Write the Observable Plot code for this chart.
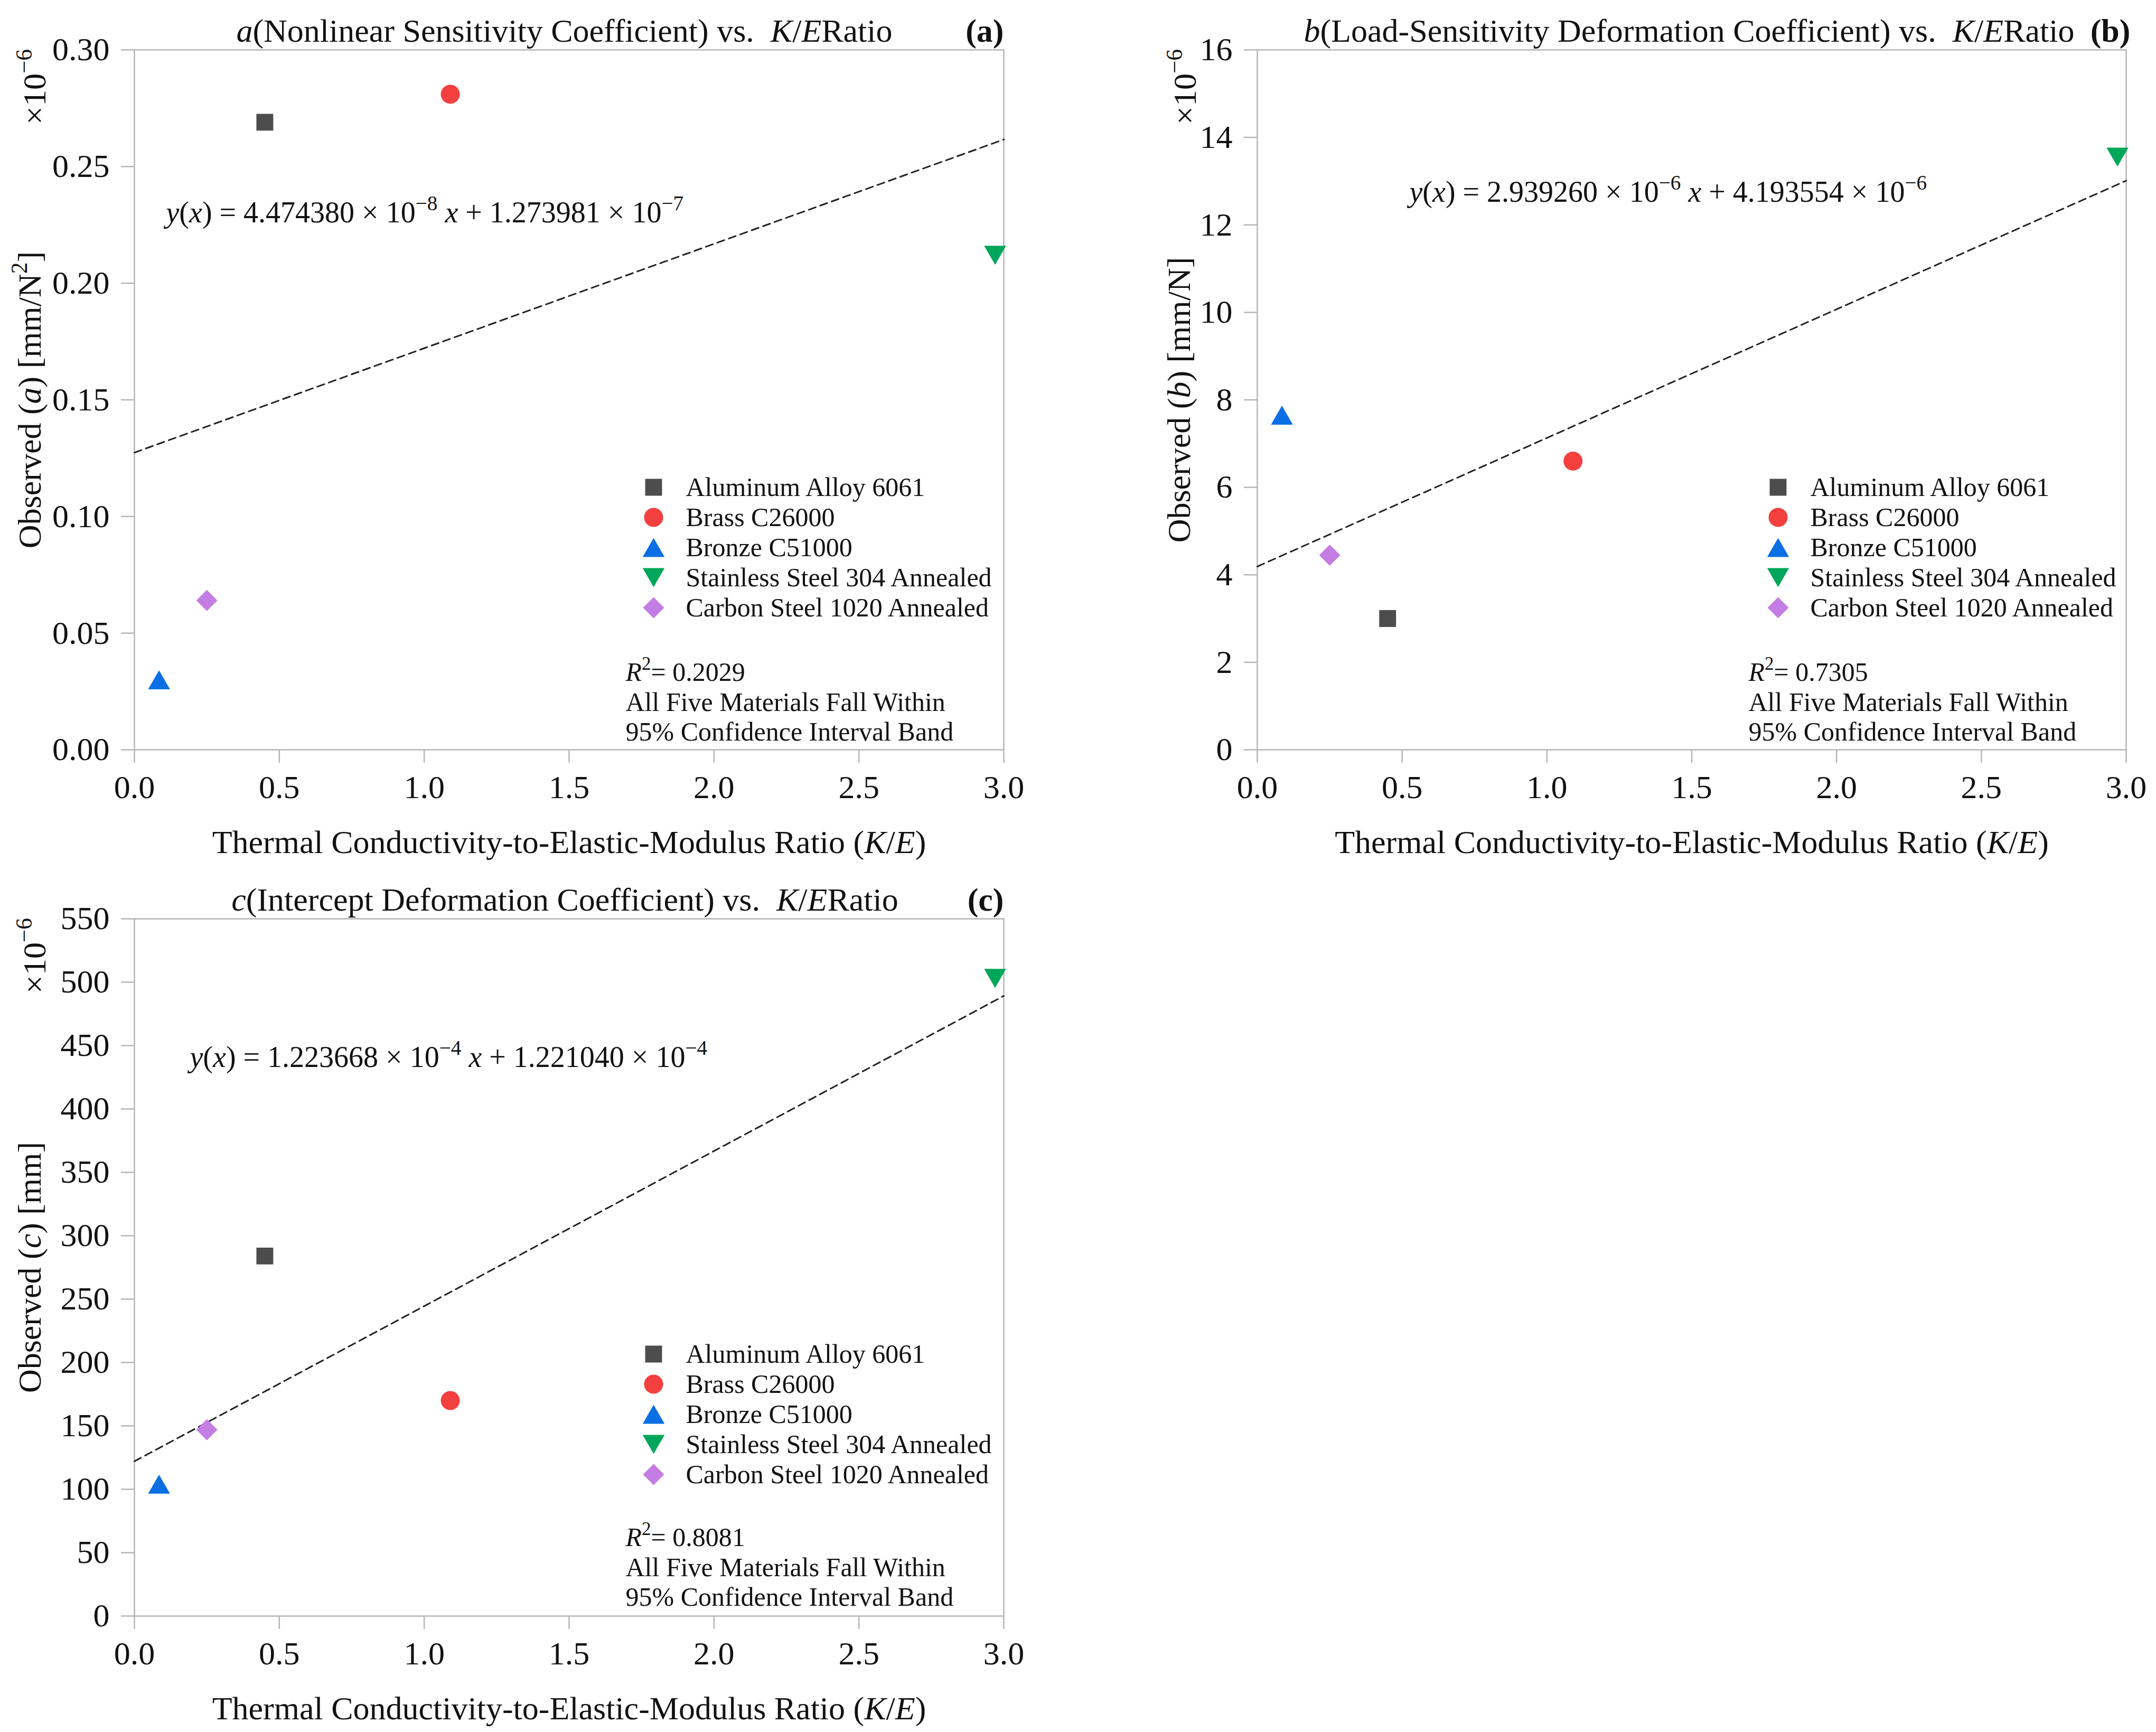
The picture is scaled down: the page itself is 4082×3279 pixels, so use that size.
<!DOCTYPE html>
<html>
<head>
<meta charset="utf-8">
<script src="https://cdn.jsdelivr.net/npm/d3@7"></script>
<script src="https://cdn.jsdelivr.net/npm/@observablehq/plot@0.6"></script>
<style>
  html, body { margin: 0; padding: 0; background: #fff; }
  #page { position: relative; width: 4082px; height: 3279px; background: #fff; overflow: hidden; }
  #page > svg { position: absolute; }
  #page svg text { font-family: 'Liberation Serif', 'Times New Roman', serif; }
</style>
</head>
<body>
<div id="page"></div>
<script>
// --- data ---
const materials = ["Aluminum Alloy 6061", "Brass C26000", "Bronze C51000", "Stainless Steel 304 Annealed", "Carbon Steel 1020 Annealed"];
const keRatio = [0.45, 1.09, 0.085, 2.97, 0.25];
const obsA = [0.269, 0.281, 0.030, 0.212, 0.064];   // x10^-6 mm/N^2
const obsB = [3.0, 6.6, 7.65, 13.55, 4.45];         // x10^-6 mm/N
const obsC = [284, 170, 104, 503, 147];             // x10^-6 mm
// fitted line ends at K/E = 0 and 3
const fitX = [0, 3];
const fitA = [0.1274, 0.2616];
const fitB = [4.19, 13.01];
const fitC = [122.1, 489.2];
const xTicks = [0, 0.5, 1, 1.5, 2, 2.5, 3];
const aTicks = [0, 0.05, 0.10, 0.15, 0.20, 0.25, 0.30];
const bTicks = [0, 2, 4, 6, 8, 10, 12, 14, 16];
const cTicks = [0, 50, 100, 150, 200, 250, 300, 350, 400, 450, 500, 550];
const colors = ["#4d4d4d", "#f43f3f", "#0a6fe3", "#00a65a", "#c47de3"];

// triangles a bit smaller than d3's default
const triUp = {draw(ctx, size) {
  const s = Math.sqrt(size) * 1.3, h = s * Math.sqrt(3) / 2;
  ctx.moveTo(0, -h / 2); ctx.lineTo(s / 2, h / 2); ctx.lineTo(-s / 2, h / 2); ctx.closePath();
}};
const triDown = {draw(ctx, size) {
  const s = Math.sqrt(size) * 1.3, h = s * Math.sqrt(3) / 2;
  ctx.moveTo(0, h / 2); ctx.lineTo(s / 2, -h / 2); ctx.lineTo(-s / 2, -h / 2); ctx.closePath();
}};
const symbols = ["square", "circle", triUp, triDown, "diamond2"];

const font = "'Liberation Serif', 'Times New Roman', serif";
const xLabel = "Thermal Conductivity-to-Elastic-Modulus Ratio (*K*/*E*)";
const gray = "#b5b5b5";

// *..* -> italic, ^..^ -> superscript
function richText(svg) {
  d3.select(svg).selectAll("text, tspan")
    .filter(function() { return this.childElementCount === 0 && /[*^]/.test(this.textContent); })
    .each(function() {
      const el = d3.select(this), src = this.textContent;
      el.text(null);
      const segs = [];
      let it = false, sup = false, buf = "";
      for (const ch of src) {
        if (ch === "*" || ch === "^") {
          if (buf) segs.push({t: buf, it, sup});
          buf = "";
          if (ch === "*") it = !it; else sup = !sup;
        } else buf += ch;
      }
      if (buf) segs.push({t: buf, it, sup});
      let prevSup = false;
      for (const s of segs) {
        const t = el.append("tspan").text(s.t);
        if (s.it) t.attr("font-style", "italic");
        if (s.sup) { t.attr("font-size", "0.7em"); if (!prevSup) t.attr("dy", "-0.6em"); }
        else if (prevSup) t.attr("dy", "0.42em");
        prevSup = s.sup;
      }
    });
}

function panel(cfg) {
  const rows = materials.map((m, i) => ({material: m, ke: keRatio[i], value: cfg.values[i]}));
  const fit = fitX.map((x, i) => ({x, y: cfg.fit[i]}));
  const chart = Plot.plot({
    width: cfg.width,
    height: cfg.height,
    marginLeft: cfg.mL, marginRight: cfg.mR, marginTop: cfg.mT, marginBottom: cfg.mB,
    style: {fontFamily: font, fontSize: "62px", color: "#111", background: "transparent", whiteSpace: "pre", overflow: "visible"},
    x: {domain: [0, 3]},
    y: {domain: cfg.yDomain},
    color: {domain: materials, range: colors},
    symbol: {domain: materials, range: symbols},
    marks: [
      Plot.frame({stroke: gray, strokeWidth: 2.5}),
      Plot.axisX({ticks: xTicks, tickFormat: d3.format(".1f"), tickSize: 25, tickPadding: 22, stroke: gray, strokeWidth: 2.5, label: null, fontFamily: font}),
      Plot.axisY({ticks: cfg.yTicks, tickFormat: cfg.yFormat, tickSize: 25, tickPadding: 22, stroke: gray, strokeWidth: 2.5, label: null, fontFamily: font}),
      Plot.line(fit, {x: "x", y: "y", stroke: "#222", strokeWidth: 3, strokeDasharray: "14,9"}),
      Plot.dot(rows, {x: "ke", y: "value", symbol: "material", fill: "material", r: 18}),
      // title + panel tag
      Plot.text([cfg.title], {text: d => d, frameAnchor: "top", dx: cfg.titleDx, dy: -35, textAnchor: "middle", lineAnchor: "middle", fontSize: 62}),
      Plot.text([cfg.tag], {text: d => d, frameAnchor: "top-right", textAnchor: "end", dx: cfg.tagDx, dy: -35, lineAnchor: "middle", fontSize: 62, fontWeight: "bold"}),
      // axis labels
      Plot.text([xLabel], {text: d => d, frameAnchor: "bottom", dy: 176, textAnchor: "middle", lineAnchor: "middle", fontSize: 62}),
      Plot.text([cfg.ylab], {text: d => d, frameAnchor: "left", dx: cfg.ylabDx, rotate: -90, textAnchor: "middle", lineAnchor: "middle", fontSize: 62}),
      Plot.text(["×10^−6^"], {text: d => d, frameAnchor: "top-left", dx: cfg.expDx, dy: 70, rotate: -90, textAnchor: "middle", lineAnchor: "middle", fontSize: 62}),
      // annotations
      Plot.text([cfg.eq], {text: d => d, frameAnchor: "top-left", dx: cfg.eqDx, dy: cfg.eqDy, textAnchor: "start", lineAnchor: "middle", fontSize: 56}),
      Plot.text([cfg.r2], {text: d => d, frameAnchor: "bottom-left", dx: cfg.r2Dx, dy: cfg.r2Dy, textAnchor: "start", lineAnchor: "middle", lineHeight: 1.13, fontSize: 50})
    ]
  });
  richText(chart);
  chart.style.left = cfg.left + "px";
  chart.style.top = cfg.top + "px";
  return chart;
}

function legendBox(left, top) {
  const lg = Plot.plot({
    width: 760, height: 5 * 57,
    margin: 0,
    style: {fontFamily: font, color: "#111", background: "transparent", overflow: "visible"},
    y: {domain: materials, axis: null},
    color: {domain: materials, range: colors},
    symbol: {domain: materials, range: symbols},
    marks: [
      Plot.dot(materials, {y: d => d, symbol: d => d, fill: d => d, r: 18, frameAnchor: "left", dx: 20}),
      Plot.text(materials, {y: d => d, text: d => d, frameAnchor: "left", dx: 81, textAnchor: "start", fontSize: 50})
    ]
  });
  lg.style.left = left + "px";
  lg.style.top = top + "px";
  return lg;
}

const page = document.getElementById("page");

page.append(panel({
  values: obsA, fit: fitA, yDomain: [0, 0.3], yTicks: aTicks, yFormat: d3.format(".2f"),
  title: "*a*(Nonlinear Sensitivity Coefficient) vs.  *K*/*E*Ratio", titleDx: -9, tag: "(a)", tagDx: 0,
  ylab: "Observed (*a*) [mm/N^2^]", ylabDx: -197, expDx: -188,
  eq: "*y*(*x*) = 4.474380 × 10^−8^ *x* + 1.273981 × 10^−7^", eqDx: 60, eqDy: 309,
  r2: "*R*^2^= 0.2029\nAll Five Materials Fall Within\n95% Confidence Interval Band", r2Dx: 930, r2Dy: -92,
  width: 1990, height: 1660, mL: 254, mR: 90, mT: 94, mB: 241, left: 0, top: 0
}));

page.append(panel({
  values: obsB, fit: fitB, yDomain: [0, 16], yTicks: bTicks, yFormat: d3.format("d"),
  title: "*b*(Load-Sensitivity Deformation Coefficient) vs.  *K*/*E*Ratio", titleDx: -5, tag: "(b)", tagDx: 8,
  ylab: "Observed (*b*) [mm/N]", ylabDx: -147, expDx: -136,
  eq: "*y*(*x*) = 2.939260 × 10^−6^ *x* + 4.193554 × 10^−6^", eqDx: 288, eqDy: 270,
  r2: "*R*^2^= 0.7305\nAll Five Materials Fall Within\n95% Confidence Interval Band", r2Dx: 930, r2Dy: -92,
  width: 1982, height: 1660, mL: 280, mR: 57, mT: 94, mB: 241, left: 2100, top: 0
}));

page.append(panel({
  values: obsC, fit: fitC, yDomain: [0, 550], yTicks: cTicks, yFormat: d3.format("d"),
  title: "*c*(Intercept Deformation Coefficient) vs.  *K*/*E*Ratio", titleDx: -8, tag: "(c)", tagDx: 0,
  ylab: "Observed (*c*) [mm]", ylabDx: -197, expDx: -188,
  eq: "*y*(*x*) = 1.223668 × 10^−4^ *x* + 1.221040 × 10^−4^", eqDx: 105, eqDy: 263,
  r2: "*R*^2^= 0.8081\nAll Five Materials Fall Within\n95% Confidence Interval Band", r2Dx: 930, r2Dy: -94,
  width: 1990, height: 1639, mL: 254, mR: 90, mT: 99, mB: 220, left: 0, top: 1640
}));

page.append(legendBox(1217, 893));
page.append(legendBox(3346, 893));
page.append(legendBox(1217, 2534));
</script>
</body>
</html>
